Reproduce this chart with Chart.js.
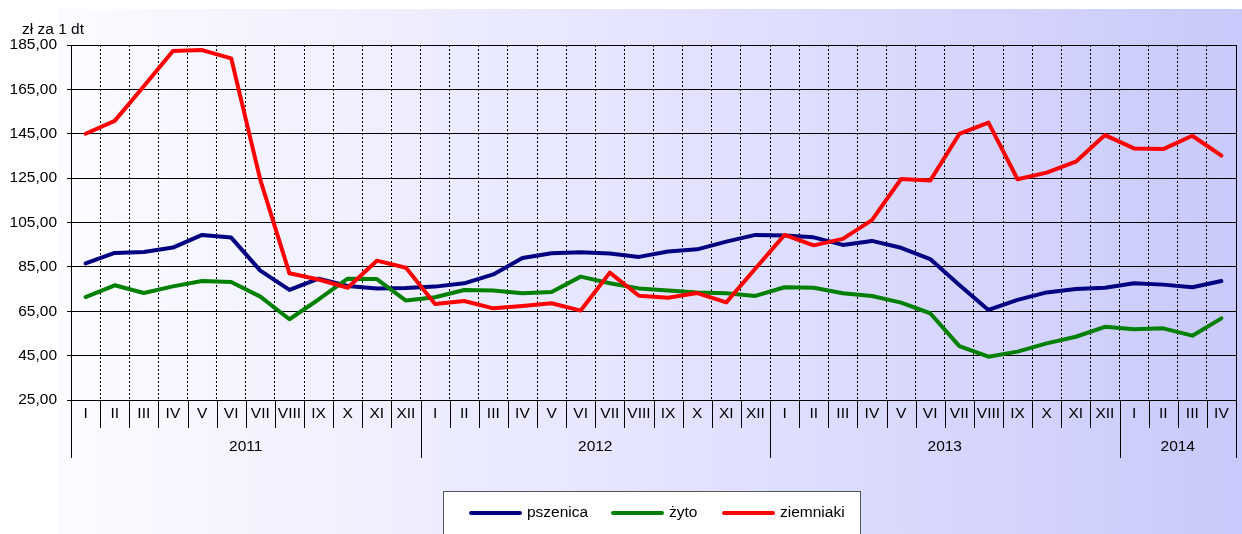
<!DOCTYPE html>
<html>
<head>
<meta charset="utf-8">
<script src="https://cdn.jsdelivr.net/npm/chart.js@4/dist/chart.umd.min.js"></script>
<style>
html,body{margin:0;padding:0;background:#fff;}
#wrap{width:1242px;height:534px;position:relative;}
</style>
</head>
<body>
<div id="wrap"><canvas id="c" width="1242" height="534"></canvas></div>
<script>
const months = ['I','II','III','IV','V','VI','VII','VIII','IX','X','XI','XII'];
const years = ['2011','2012','2013','2014'];
const monthsPerYear = [12, 12, 12, 4];
const yTicks = [25, 45, 65, 85, 105, 125, 145, 165, 185];
const unitLabel = 'zł za 1 dt';

const pszenica = [86.6,91.3,91.7,93.7,99.4,98.2,83.3,74.6,79.7,76.4,75.3,75.5,
  76.1,77.6,81.6,89.0,91.1,91.6,91.0,89.5,91.9,92.9,96.4,99.4,
  99.1,98.3,94.9,96.7,93.6,88.5,76.8,65.6,70.1,73.5,75.0,75.6,
  77.6,77.0,75.8,78.6];
const zyto = [71.4,76.7,73.2,76.2,78.6,78.2,71.6,61.4,70.3,79.7,79.5,69.8,
  71.3,74.6,74.4,73.1,73.7,80.6,77.6,75.3,74.3,73.5,73.1,71.9,
  75.8,75.6,73.1,71.9,68.9,64.1,49.3,44.5,46.8,50.5,53.5,58.0,
  56.9,57.3,54.0,61.8];
const ziemniaki = [145.0,150.8,166.4,182.3,182.7,179.0,124.2,82.1,79.3,75.6,87.8,84.6,
  68.3,69.6,66.3,67.4,68.6,65.3,82.4,72.0,71.1,73.2,69.0,84.3,
  99.4,94.7,97.6,106.1,124.6,123.9,144.9,150.0,124.5,127.5,132.4,144.4,
  138.4,138.1,144.1,135.1];

// build category labels
const categories = [];
years.forEach((y, yi) => { for (let m = 0; m < monthsPerYear[yi]; m++) categories.push(months[m]); });

const FONT = '"Liberation Sans", Arial, sans-serif';
const FS = 15.5;

const bgPlugin = {
  id: 'bg',
  beforeDraw(chart) {
    const ctx = chart.ctx;
    ctx.save();
    ctx.fillStyle = '#ffffff';
    ctx.fillRect(0, 0, chart.width, chart.height);
    const g = ctx.createLinearGradient(58, 0, chart.width, 0);
    g.addColorStop(0, '#fbfbff');
    g.addColorStop(0.5, '#e4e4ff');
    g.addColorStop(1, '#c9c9fb');
    ctx.fillStyle = g;
    ctx.fillRect(58, 9, chart.width - 58, chart.height - 9);
    ctx.restore();
  }
};

const axisPlugin = {
  id: 'axisPlugin',
  afterDraw(chart) {
    const ctx = chart.ctx;
    const xs = chart.scales.x;
    const ca = chart.chartArea;
    const n = categories.length;
    const half = (xs.getPixelForValue(1) - xs.getPixelForValue(0)) / 2;
    ctx.save();
    // right border solid
    ctx.strokeStyle = '#000';
    ctx.lineWidth = 1;
    ctx.beginPath();
    ctx.moveTo(Math.round(ca.right) + 0.5, ca.top);
    ctx.lineTo(Math.round(ca.right) + 0.5, ca.bottom);
    ctx.stroke();
    // month separators
    ctx.beginPath();
    for (let i = 0; i <= n; i++) {
      const x = Math.round(xs.getPixelForValue(0) - half + i * 2 * half) + 0.5;
      ctx.moveTo(x, ca.bottom);
      ctx.lineTo(x, ca.bottom + 28);
    }
    ctx.stroke();
    // month labels
    ctx.fillStyle = '#000';
    ctx.font = FS + 'px ' + FONT;
    ctx.textAlign = 'center';
    ctx.textBaseline = 'middle';
    categories.forEach((lab, i) => {
      ctx.fillText(lab, xs.getPixelForValue(i), ca.bottom + 14);
    });
    // year separators & labels
    let start = 0;
    ctx.beginPath();
    years.forEach((y, yi) => {
      const end = start + monthsPerYear[yi] - 1;
      const x0 = xs.getPixelForValue(start) - half;
      const x1 = xs.getPixelForValue(end) + half;
      ctx.moveTo(Math.round(x0) + 0.5, ca.bottom);
      ctx.lineTo(Math.round(x0) + 0.5, ca.bottom + 58);
      if (yi === years.length - 1) {
        ctx.moveTo(Math.round(x1) + 0.5, ca.bottom);
        ctx.lineTo(Math.round(x1) + 0.5, ca.bottom + 58);
      }
      ctx.fillText(y, (x0 + x1) / 2, ca.bottom + 47);
      start = end + 1;
    });
    ctx.stroke();
    // unit label
    ctx.textAlign = 'left';
    ctx.textBaseline = 'alphabetic';
    ctx.fillText(unitLabel, 22, 34);
    // legend
    ctx.fillStyle = '#ffffff';
    ctx.fillRect(443, 491, 418, 60);
    ctx.strokeStyle = '#555';
    ctx.strokeRect(443.5, 491.5, 417, 60);
    const itemX = [469, 611, 722];
    const ds = chart.data.datasets.slice().sort((a, b) => a.legendIndex - b.legendIndex);
    ds.forEach((d, k) => {
      const x = itemX[k];
      ctx.strokeStyle = d.borderColor;
      ctx.lineWidth = 4;
      ctx.lineCap = 'round';
      ctx.beginPath();
      ctx.moveTo(x + 2, 513);
      ctx.lineTo(x + 51, 513);
      ctx.stroke();
      ctx.fillStyle = '#000';
      ctx.textBaseline = 'middle';
      ctx.fillText(d.label, x + 58, 513);
    });
    ctx.restore();
  }
};

new Chart(document.getElementById('c'), {
  type: 'line',
  data: {
    labels: categories,
    datasets: [
      { label: 'pszenica', data: pszenica, borderColor: '#000080', order: 3, legendIndex: 0 },
      { label: 'żyto', data: zyto, borderColor: '#008000', order: 2, legendIndex: 1 },
      { label: 'ziemniaki', data: ziemniaki, borderColor: '#ff0000', order: 1, legendIndex: 2 }
    ].map(d => Object.assign(d, {
      borderWidth: 4, pointRadius: 0, pointHoverRadius: 0, tension: 0,
      fill: false, borderJoinStyle: 'round', borderCapStyle: 'round'
    }))
  },
  options: {
    responsive: false,
    animation: false,
    events: [],
    layout: { padding: { left: 0, right: 6, top: 45, bottom: 134 } },
    plugins: { legend: { display: false }, tooltip: { enabled: false }, title: { display: false } },
    scales: {
      x: {
        type: 'category',
        offset: true,
        grid: { offset: true, color: '#000', lineWidth: 1, drawTicks: false },
        border: { display: true, color: '#000', width: 1, dash: [2, 2] },
        ticks: { display: false },
        afterFit(s) { s.height = 0; }
      },
      y: {
        min: 25, max: 185,
        afterBuildTicks(s) { s.ticks = yTicks.map(v => ({ value: v })); },
        grid: { color: '#000', lineWidth: 1, drawTicks: true, tickLength: 4, tickColor: '#000' },
        border: { display: true, color: '#000', width: 1 },
        ticks: {
          color: '#000', padding: 10,
          font: { family: FONT, size: FS },
          callback: v => v.toFixed(2).replace('.', ',')
        },
        afterFit(s) { s.width = 71; }
      }
    }
  },
  plugins: [bgPlugin, axisPlugin]
});
</script>
</body>
</html>
